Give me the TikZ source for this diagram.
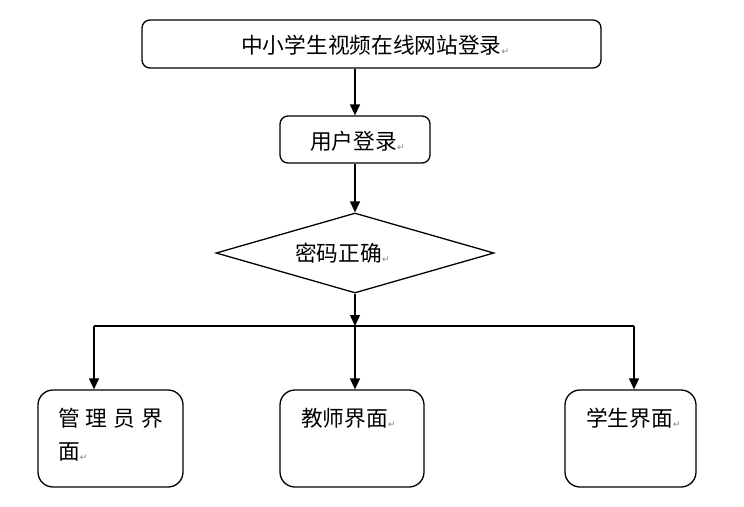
\documentclass[tikz,border=0pt]{standalone}
\usepackage{fontspec}
\newfontfamily\cjk{Noto Sans CJK SC}[Scale=1]
\newfontfamily\symf{DejaVu Sans}
\usetikzlibrary{arrows.meta,shapes.geometric}
\newcommand{\pmark}{{\symf\color{gray}\fontsize{9}{9}\selectfont\raisebox{-1pt}{↵}}}
\begin{document}
\begin{tikzpicture}[x=1pt,y=-1pt,
  box/.style={draw,line width=1.3pt,inner sep=0pt},
  lbl/.style={font=\cjk\fontsize{21.7}{25}\selectfont,inner sep=0pt,anchor=west},
  arr/.style={line width=1.3pt,-{Triangle[length=11pt,width=10pt]}},
  conn/.style={line width=1.3pt}]
\useasboundingbox (0,0) rectangle (744,506);
% boxes
\node[box,rounded corners=8pt,minimum width=459pt,minimum height=48pt] (top) at (371.5,44) {};
\node[box,rounded corners=8pt,minimum width=150pt,minimum height=47pt] (user) at (355,139.5) {};
\node[box,diamond,minimum width=278pt,minimum height=80pt] (pw) at (355,253) {};
\node[box,rounded corners=15pt,minimum width=145pt,minimum height=97pt] (b1) at (110.5,438.5) {};
\node[box,rounded corners=15pt,minimum width=144pt,minimum height=97pt] (b2) at (352,438.5) {};
\node[box,rounded corners=15pt,minimum width=131pt,minimum height=97pt] (b3) at (630.5,438.5) {};
% texts
\node[lbl] (t0) at (241,45) {中小学生视频在线网站登录\pmark};
\node[lbl] (t1) at (310,141) {用户登录\pmark};
\node[lbl] (t2) at (295,253) {密码正确\pmark};
\node[lbl] (t3a) at (58,418) {管\hspace{6pt}理\hspace{6pt}员\hspace{6pt}界};
\node[lbl] (t3b) at (58,452) {面\pmark};
\node[lbl] (t4) at (301,418) {教师界面\pmark};
\node[lbl] (t5) at (586,418) {学生界面\pmark};
% connectors
\coordinate (j1) at (94,326);
\coordinate (j2) at (355,326);
\coordinate (j3) at (634,326);
\draw[arr] (top.south -| user.north) -- (user.north);
\draw[arr] (user.south) -- (pw.north);
\draw[arr] (pw.south) -- (j2);
\draw[conn] (j1) -- (j3);
\draw[arr] (j1) -- (j1 |- b1.north);
\draw[arr] (j2) -- (j2 |- b2.north);
\draw[arr] (j3) -- (j3 |- b3.north);
\end{tikzpicture}
\end{document}
